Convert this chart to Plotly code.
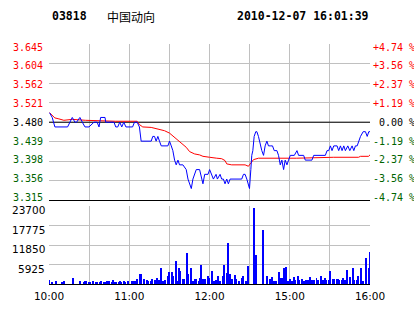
import plotly.graph_objects as go

# ---------------- data ----------------
stock_code = "03818"
stock_name = "中国动向"
stamp = "2010-12-07 16:01:39"
prev_close = 3.480
session_len = 240  # minutes on the compressed clock (10:00-12:30, 14:30-16:00)

price_min = [0.4, 2.4, 4.4, 13.9, 17.4, 19.4, 20.6, 23.1, 24.9, 26.9, 29.9, 33.6, 36, 37.4, 38.6, 41.9,
             42.4, 48.6, 49.9, 51.4, 52.9, 54.4, 55.9, 57.5, 62.5, 63.9, 65.9, 67.6, 68.9, 76.4, 77.6,
             78.9, 80.1, 81.4, 82.6, 83.9, 88.9, 90.1, 91.4, 92.6, 93.9, 95.1, 96.4, 97.6, 100.1, 102.6,
             103.9, 105.1, 106.4, 107.6, 108.9, 110.1, 112.6, 113.9, 115.1, 116.4, 118.9, 120.1, 121.4,
             122.9, 124.9, 125.9, 127.9, 129.1, 130.4, 131.6, 132.9, 134.1, 135.4, 144.1, 145.4, 146.6,
             147.9, 149.1, 149.9, 150.9, 151.6, 152.4, 153.4, 154.6, 155.4, 156.6, 157.9, 159.1, 160.4,
             161.6, 162.9, 164.1, 165.4, 167.1, 168.4, 170.4, 171.6, 172.9, 174.1, 175.4, 176.6, 177.9,
             179.1, 180.4, 183.4, 185.4, 186.6, 190.4, 191.6, 196.6, 197.9, 206.6, 207.9, 209.1, 210.4,
             211.6, 212.9, 215.4, 216.6, 217.9, 219.1, 220.4, 221.6, 223.4, 224.9, 226.6, 227.9, 229.1,
             230.4, 231.6, 232.9, 234.9, 236.6, 237.9, 239.1, 240]
price_val = [3.50, 3.49, 3.47, 3.47, 3.49, 3.48, 3.48, 3.49, 3.48, 3.47, 3.47, 3.48, 3.48, 3.47, 3.49, 3.49,
             3.48, 3.48, 3.47, 3.47, 3.48, 3.47, 3.48, 3.47, 3.47, 3.48, 3.48, 3.47, 3.44, 3.44, 3.45,
             3.45, 3.44, 3.45, 3.44, 3.43, 3.43, 3.44, 3.43, 3.42, 3.40, 3.39, 3.40, 3.39, 3.39, 3.38,
             3.36, 3.35, 3.34, 3.36, 3.37, 3.38, 3.38, 3.36, 3.35, 3.37, 3.37, 3.38, 3.37,
             3.36, 3.37, 3.36, 3.37, 3.36, 3.36, 3.35, 3.36, 3.35, 3.36, 3.36, 3.37, 3.37,
             3.36, 3.35, 3.34, 3.38, 3.41, 3.42, 3.45, 3.46, 3.46, 3.45, 3.43, 3.42, 3.41,
             3.43, 3.44, 3.43, 3.43, 3.43, 3.42, 3.42, 3.41, 3.39, 3.40, 3.38, 3.40, 3.39,
             3.40, 3.41, 3.41, 3.42, 3.41, 3.41, 3.40, 3.40, 3.41, 3.41, 3.42, 3.42, 3.43,
             3.42, 3.43, 3.43, 3.42, 3.43, 3.42, 3.43, 3.42, 3.43, 3.42, 3.43, 3.42, 3.43,
             3.43, 3.44, 3.45, 3.46, 3.46, 3.45, 3.46, 3.46]

avg_min = [0.4, 2.4, 4.4, 7.4, 11.1, 17.4, 27.4, 49.9, 65.9, 67.6, 70.1, 76.4, 82.6, 86.4, 90.1, 93.9,
           97.6, 102.6, 105.1, 108.9, 112.6, 115.1, 120.1, 123.4, 125.4, 129.1, 131.6, 132.9, 136.6,
           146.6, 149.1, 150.4, 152.9, 156.6, 184.9, 212.9, 231.4, 232.9, 238.9, 240]
avg_val = [3.500, 3.494, 3.489, 3.487, 3.484, 3.486, 3.484, 3.482, 3.482, 3.475, 3.470, 3.469, 3.464,
           3.462, 3.457, 3.448, 3.439, 3.427, 3.418, 3.413, 3.411, 3.408, 3.406, 3.404, 3.404, 3.403,
           3.399, 3.392, 3.390, 3.390, 3.387, 3.392, 3.401, 3.404, 3.404, 3.406, 3.406, 3.408, 3.408,
           3.411]

vol_min = [0, 2, 5, 10, 11, 18, 23, 26, 27, 28, 30, 31, 33, 35, 36, 38, 39, 41, 42, 43, 45, 47, 48, 49,
           50, 52, 53, 54, 56, 57, 59, 62, 63, 64, 66, 68, 69, 71, 73, 74, 76, 77, 79, 81, 82, 84, 85,
           87, 89, 90, 92, 93, 95, 96, 97, 98, 100, 101, 103, 104, 106, 108, 109, 110, 112, 113, 114,
           115, 116, 117, 119, 120, 122, 123, 125, 126, 127, 128, 130, 131, 133, 134, 135, 137, 139,
           140, 142, 144, 145, 147, 148, 149, 153, 155, 160, 163, 165, 167, 168, 170, 172, 173, 174,
           176, 177, 179, 180, 182, 183, 184, 186, 187, 189, 191, 192, 194, 195, 196, 197, 198, 200,
           201, 203, 205, 206, 207, 209, 210, 212, 213, 215, 216, 217, 219, 220, 221, 223, 225, 227,
           228, 230, 231, 233, 235, 237, 239, 240]
vol_val = [1200, 500, 900, 500, 800, 1800, 900, 500, 900, 700, 500, 500, 800, 500, 500, 500, 900, 500,
           500, 700, 700, 500, 1100, 500, 500, 500, 700, 500, 700, 500, 900, 700, 700, 700, 1500, 3000,
           3000, 1300, 1000, 700, 700, 1300, 1000, 1700, 1000, 4900, 700, 1000, 2200, 3700, 3500, 2500,
           7000, 700, 4700, 4000, 1300, 1300, 9400, 3100, 4700, 700, 1300, 1300, 700, 1700, 5800, 1300,
           1300, 1300, 2200, 1700, 4000, 700, 1000, 2300, 700, 700, 2300, 5800, 3300, 12300, 2900,
           1300, 2800, 1300, 700, 1700, 2500, 700, 700, 5500, 23100, 8800, 16300, 2500, 1500, 2000,
           700, 700, 3700, 1600, 1600, 4700, 5000, 700, 1300, 700, 2000, 1000, 2300, 1000, 1500, 700,
           1000, 1000, 1900, 700, 1000, 1000, 1700, 1000, 2500, 1000, 1700, 1000, 1000, 4000, 1300,
           1500, 1300, 1300, 1000, 1000, 1700, 1000, 4300, 2000, 4700, 1000, 1000, 2500, 4700, 700,
           7700, 4700, 9700]

time_ticks = [0, 30, 60, 90, 120, 150, 180, 210, 240]
time_labels = ["10:00", "", "11:00", "", "12:00", "", "15:00", "", "16:00"]
price_labels = ["3.315", "3.356", "3.398", "3.439", "3.480", "3.521", "3.562", "3.604", "3.645"]
pct_labels = ["-4.74 %", "-3.56 %", "-2.37 %", "-1.19 %", "0.00 %", "+1.19 %", "+2.37 %", "+3.56 %", "+4.74 %"]
vol_max = 23700
vol_labels = ["", "5925", "11850", "17775", "23700"]

# ---------------- styling ----------------
UP, DOWN, FLAT = "#ff0000", "#006400", "#000000"
GRID = "#c0c0c0"
half = 0.165
price_ticks = [prev_close - half + i * half / 4 for i in range(9)]
vol_ticks = [vol_max * i / 4 for i in range(5)]


def col(i):
    return DOWN if i < 4 else (FLAT if i == 4 else UP)


mono = dict(family="DejaVu Sans Mono", size=10, color="#000000")
sans = dict(family="DejaVu Sans", size=10.5, color="#000000")

fig = go.Figure()
fig.add_trace(go.Bar(x=vol_min, y=vol_val, xaxis="x", yaxis="y2", width=0.75,
                     marker=dict(color="#0000ff", line=dict(width=0)), hoverinfo="skip"))
fig.add_trace(go.Scatter(x=[0, session_len], y=[prev_close, prev_close], xaxis="x2", yaxis="y",
                         mode="lines", line=dict(color="#000000", width=1), hoverinfo="skip"))
fig.add_trace(go.Scatter(x=avg_min, y=avg_val, xaxis="x2", yaxis="y", mode="lines",
                         line=dict(color="#ff0000", width=1), hoverinfo="skip"))
fig.add_trace(go.Scatter(x=price_min, y=price_val, xaxis="x2", yaxis="y", mode="lines",
                         line=dict(color="#0000ff", width=1), hoverinfo="skip"))

annotations = []
for i, (v, lt, rt) in enumerate(zip(price_ticks, price_labels, pct_labels)):
    shift = 3 - 0.75 * i
    annotations.append(dict(text=lt, xref="paper", yref="y", x=0, y=v, xanchor="right",
                            yanchor="middle", xshift=-4, yshift=shift, showarrow=False,
                            font=dict(mono, color=col(i))))
    annotations.append(dict(text=rt, xref="paper", yref="y", x=1, y=v, xanchor="left",
                            yanchor="middle", xshift=7 if i == 4 else 1, yshift=shift,
                            showarrow=False, font=dict(mono, color=col(i))))
for v, t in zip(vol_ticks, vol_labels):
    if t:
        annotations.append(dict(text=t, xref="paper", yref="y2", x=0, y=v, xanchor="right",
                                yanchor="middle", xshift=-2, yshift=-4, showarrow=False, font=sans))

title_y = (314 - 26 - 16) / 244
annotations += [
    dict(text="<b>%s</b>" % stock_code, xref="paper", yref="paper", x=(50 - 49) / 321, y=title_y,
         xanchor="left", yanchor="middle", showarrow=False,
         font=dict(family="DejaVu Sans Mono", size=11.5, color="#000000")),
    dict(text=stock_name, xref="paper", yref="paper", x=(105 - 49) / 321, y=title_y,
         xanchor="left", yanchor="middle", showarrow=False,
         font=dict(family="Noto Sans CJK SC", size=12, color="#000000")),
    dict(text="<b>%s</b>" % stamp, xref="paper", yref="paper", x=(371 - 49) / 321, y=title_y,
         xanchor="right", yanchor="middle", showarrow=False,
         font=dict(family="DejaVu Sans Mono", size=11.5, color="#000000")),
]

fig.update_layout(
    width=414, height=314,
    margin=dict(l=49, r=44, t=44, b=26),
    paper_bgcolor="white", plot_bgcolor="white",
    showlegend=False, bargap=0,
    xaxis=dict(domain=[0, 1], anchor="y2", range=[0, session_len], tickmode="array",
               tickvals=time_ticks, ticktext=time_labels, showgrid=True, gridcolor=GRID,
               zeroline=False, showline=True, linecolor="#000000", linewidth=1, ticks="",
               tickfont=sans, ticklabelstandoff=2),
    xaxis2=dict(domain=[0, 1], anchor="y", matches="x", range=[0, session_len], tickmode="array",
                tickvals=time_ticks, showticklabels=False, showgrid=True, gridcolor=GRID,
                zeroline=False, showline=True, linecolor="#000000", linewidth=1, ticks=""),
    yaxis=dict(domain=[85 / 244, 1], anchor="x2", range=[prev_close - half, prev_close + half],
               tickmode="array", tickvals=price_ticks, showticklabels=False, showgrid=True,
               gridcolor=GRID, zeroline=False, showline=False, ticks=""),
    yaxis2=dict(domain=[0, 79 / 244], anchor="x", range=[0, vol_max], tickmode="array",
                tickvals=vol_ticks, showticklabels=False, showgrid=True, gridcolor=GRID,
                zeroline=False, showline=False, ticks=""),
    annotations=annotations,
)

fig.write_html("out.html")
